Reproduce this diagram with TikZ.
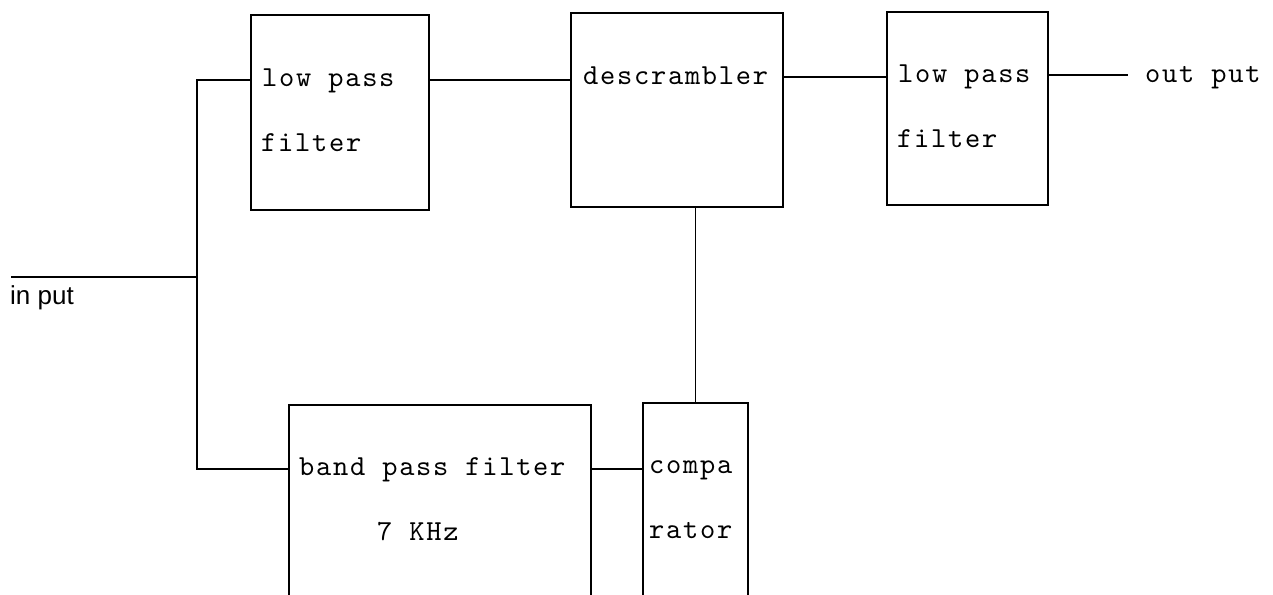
\documentclass[tikz,border=0pt]{standalone}
\usepackage{fontspec}
\newfontfamily\handfont{Liberation Sans}
\newfontfamily\typew{lmmono10-regular.otf}[LetterSpace=6]
\begin{document}
\begin{tikzpicture}[x=1pt,y=-1pt,
  blk/.style={draw, line width=1.3pt, inner sep=0pt, outer sep=0pt},
  wire/.style={line width=1.2pt},
  lbl/.style={anchor=base west, inner sep=0pt, font=\fontsize{29}{31}\selectfont\typew},
  hand/.style={anchor=base west, inner sep=0pt, font=\fontsize{26}{28}\selectfont\handfont}]
\clip (0,0) rectangle (1273,594);
\fill[white] (0,0) rectangle (1273,594);
% boxes
\node[blk, minimum width=178pt, minimum height=195pt] (lpf1) at (340,112.5) {};
\node[blk, minimum width=212pt, minimum height=194pt] (desc) at (677,110) {};
\node[blk, minimum width=161pt, minimum height=193pt] (lpf2) at (967.5,108.5) {};
\node[blk, minimum width=302pt, minimum height=235pt] (bpf) at (440,522.5) {};
\node[blk, minimum width=105pt, minimum height=237pt] (comp) at (695.5,521.5) {};
% texts
\node[lbl] (t1a) at (262,86) {low pass};
\node[lbl] (t1b) at (261,151) {filter};
\node[lbl] (t2) at (583,84) {descrambler};
\node[lbl] (t3a) at (898,82) {low pass};
\node[lbl] (t3b) at (897,147) {filter};
\node[lbl] (t4a) at (299,475) {band pass filter};
\node[lbl] (t4b) at (377,540) {7 KHz};
\node[lbl] (t5a) at (649,473) {compa};
\node[lbl] (t5b) at (649,538) {rator};
\node[lbl] (outlbl) at (1145,82) {out put};
\node[hand] (inlbl) at (10,304) {in put};
% helper coordinates
\coordinate (r1) at (0,80);
\coordinate (r2) at (0,77);
\coordinate (r3) at (0,469);
\coordinate (instart) at (11,277);
\coordinate (junc) at (197,277);
\coordinate (outend) at (1128,75);
% connectors
\draw[wire] (instart) -- (junc);
\draw[wire] (lpf1.west |- r1) -| (junc) |- (bpf.west |- r3);
\draw[wire] (lpf1.east |- r1) -- (desc.west |- r1);
\draw[wire] (desc.east |- r2) -- (lpf2.west |- r2);
\draw[wire] (lpf2.east |- outend) -- (outend);
\draw[wire] (bpf.east |- r3) -- (comp.west |- r3);
\draw[wire] (desc.south -| comp.north) -- (comp.north);
\end{tikzpicture}
\end{document}
